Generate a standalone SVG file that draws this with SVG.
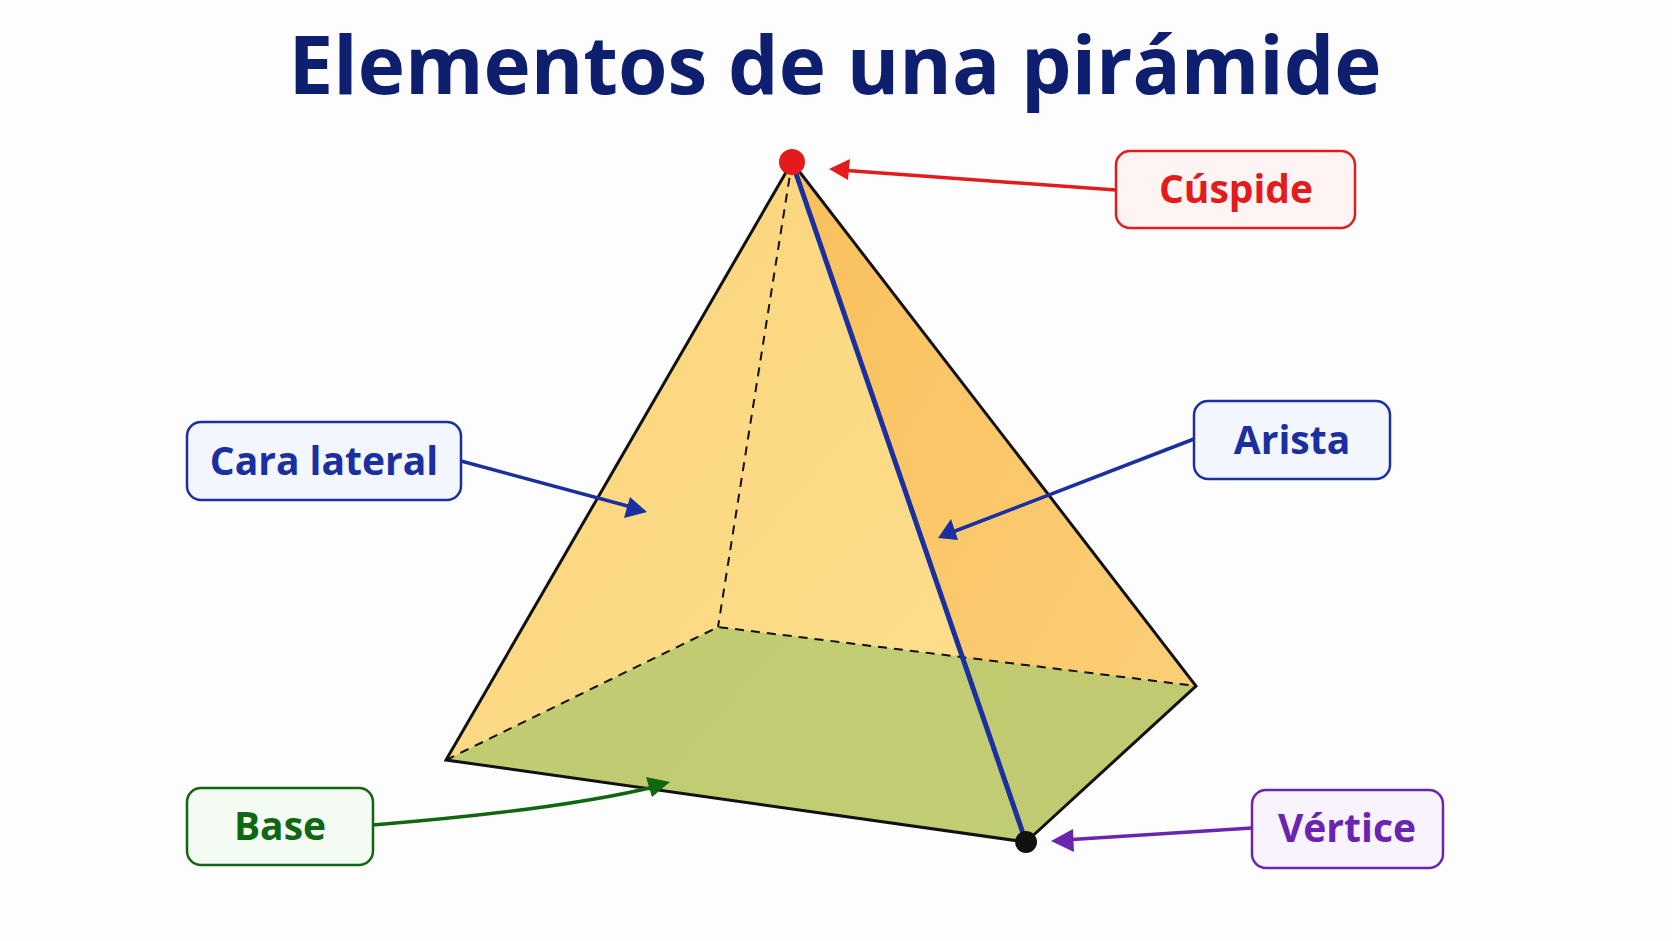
<svg xmlns="http://www.w3.org/2000/svg" width="1672" height="941" viewBox="0 0 1672 941">
<style>
.lbl{font-family:"Open Sans","Liberation Sans",sans-serif;font-weight:bold;font-size:39px;text-anchor:middle}
.box{stroke-width:2.5}
.edge{fill:none;stroke:#111;stroke-width:3}
.dash{fill:none;stroke:#111;stroke-width:2;stroke-dasharray:9 7}
</style>
<defs>
<linearGradient id="gl" x1="0" y1="0" x2="1" y2="1"><stop offset="0" stop-color="#fbd37a"/><stop offset="1" stop-color="#fde08f"/></linearGradient>
<linearGradient id="gr" x1="0" y1="0" x2="1" y2="1"><stop offset="0" stop-color="#f9c05c"/><stop offset="1" stop-color="#fcd07a"/></linearGradient>
<marker id="mr" markerWidth="10" markerHeight="10" refX="8" refY="5" orient="auto" markerUnits="userSpaceOnUse" viewBox="0 0 10 10"><path d="M0,0L10,5L0,10z" fill="#e31b1b"/></marker>
</defs>
<rect width="1672" height="941" fill="#fdfdfd"/>
<text x="835" y="94" font-family="'Open Sans','Liberation Sans',sans-serif" font-weight="bold" font-size="80" fill="#0f1f70" text-anchor="middle">Elementos de una pirámide</text>
<g id="pyramid">
<polygon points="792,162 446,760 1026,842" fill="url(#gl)"/>
<polygon points="792,162 1026,842 1196,686" fill="url(#gr)"/>
<polygon points="446,760 718,627 1196,686 1026,842" fill="#b8c96f" opacity="0.88"/>
<path class="dash" d="M792,162L718,627M446,760L718,627L1196,686"/>
<path class="edge" d="M792,162L446,760L1026,842L1196,686Z"/>
<line x1="792" y1="162" x2="1026" y2="842" stroke="#1a2fa0" stroke-width="5"/>
<circle cx="792" cy="162" r="13" fill="#e31b1b"/>
<circle cx="1026" cy="842" r="11" fill="#111"/>
</g>
<g id="connectors" fill="none" stroke-width="3.5">
<line x1="1116" y1="190" x2="840" y2="170" stroke="#e31b1b"/>
<path d="M829,169L850,159L848,180z" fill="#e31b1b" stroke="none"/>
<line x1="461" y1="461" x2="635" y2="508" stroke="#1a2fa0"/>
<path d="M647,512L624,518L630,497z" fill="#1a2fa0" stroke="none"/>
<line x1="1194" y1="439" x2="950" y2="533" stroke="#1a2fa0"/>
<path d="M938,538L951,519L958,540z" fill="#1a2fa0" stroke="none"/>
<path d="M373,825Q560,810 658,786" stroke="#116611"/>
<path d="M670,782L652,797L646,777z" fill="#116611" stroke="none"/>
<line x1="1252" y1="828" x2="1064" y2="840" stroke="#6a25b0"/>
<path d="M1051,841L1073,829L1074,852z" fill="#6a25b0" stroke="none"/>
</g>
<g id="cuspide"><rect class="box" x="1116" y="151" width="239" height="77" rx="14" fill="#fff4f4" stroke="#e31b1b"/><text class="lbl" x="1236" y="203" fill="#e31b1b">Cúspide</text></g>
<g id="cara"><rect class="box" x="187" y="422" width="274" height="78" rx="14" fill="#f3f6fd" stroke="#1a2fa0"/><text class="lbl" x="324" y="475" fill="#1a2fa0">Cara lateral</text></g>
<g id="arista"><rect class="box" x="1194" y="401" width="196" height="78" rx="14" fill="#f3f6fd" stroke="#1a2fa0"/><text class="lbl" x="1292" y="454" fill="#1a2fa0">Arista</text></g>
<g id="base"><rect class="box" x="187" y="788" width="186" height="77" rx="14" fill="#f4fbf3" stroke="#116611"/><text class="lbl" x="280" y="840" fill="#116611">Base</text></g>
<g id="vertice"><rect class="box" x="1252" y="790" width="191" height="78" rx="14" fill="#f8f3fd" stroke="#6a25b0"/><text class="lbl" x="1347" y="842" fill="#6a25b0">Vértice</text></g>
</svg>
